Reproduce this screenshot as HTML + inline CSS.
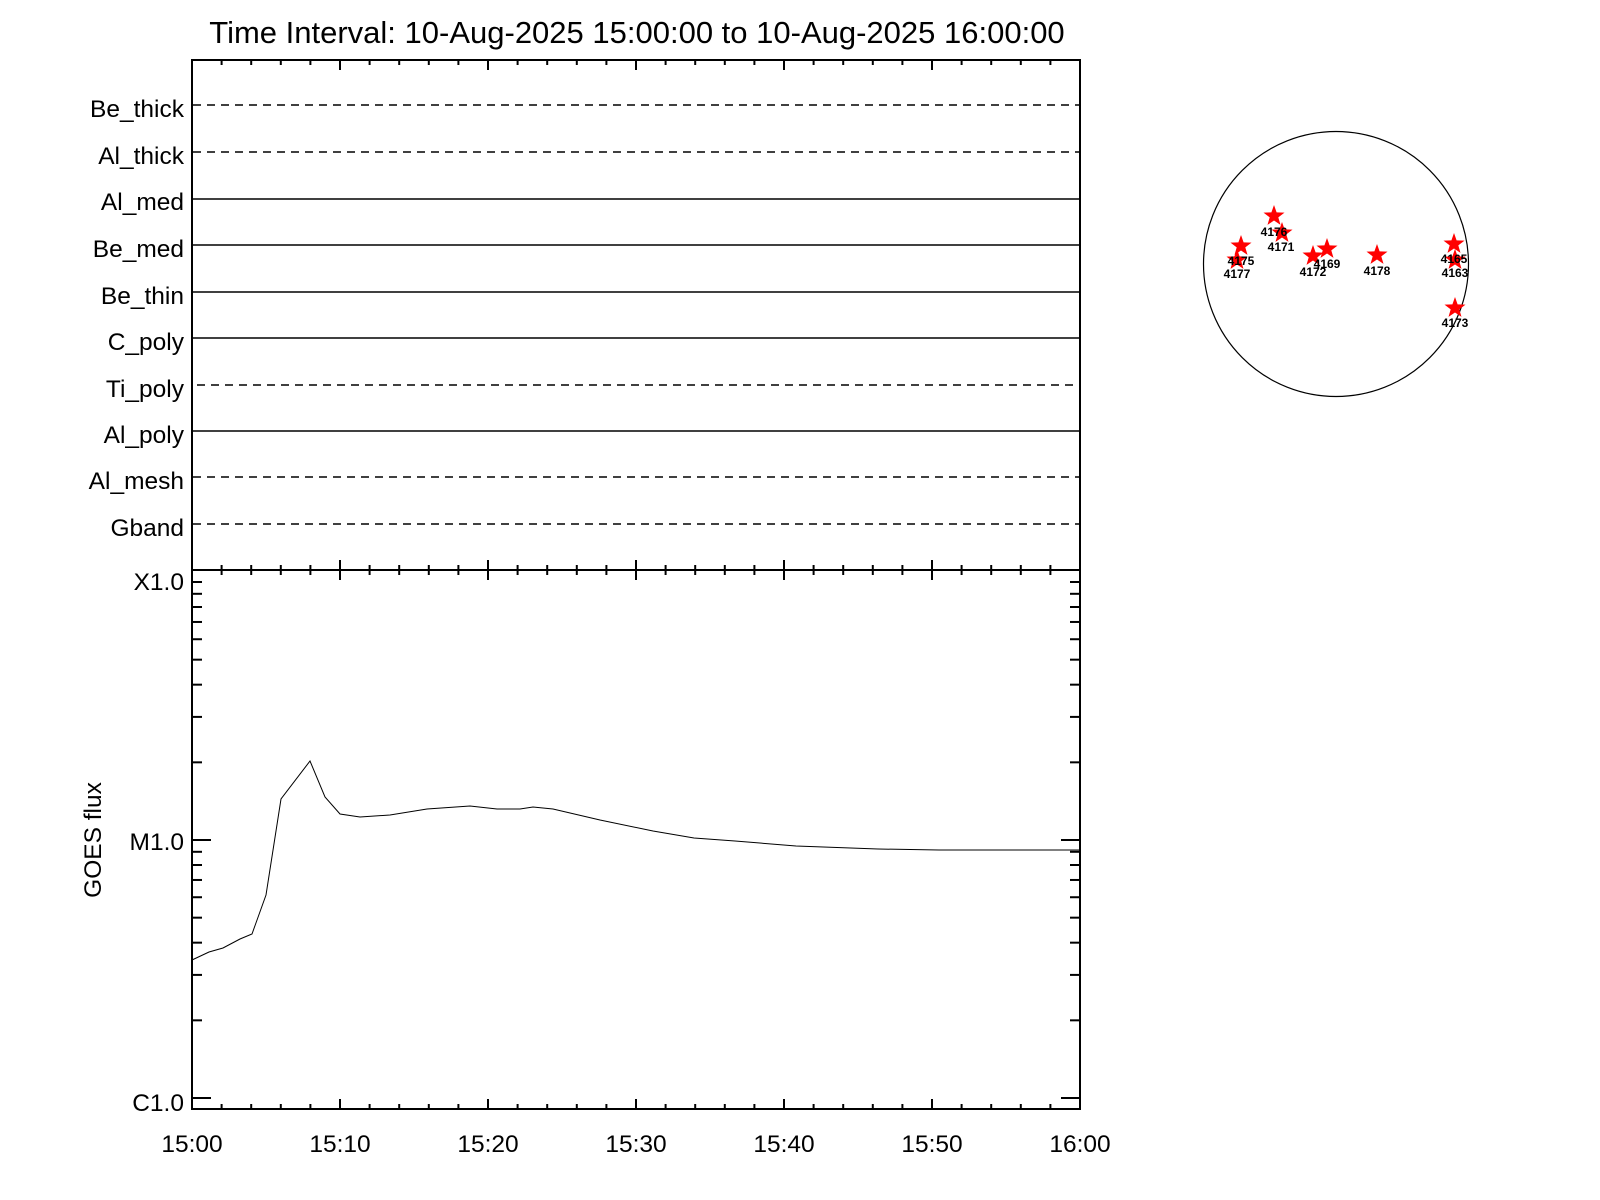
<!DOCTYPE html>
<html><head><meta charset="utf-8"><style>html,body{margin:0;padding:0;background:#fff}svg{display:block}</style></head><body>
<svg width="1600" height="1200" viewBox="0 0 1600 1200" xmlns="http://www.w3.org/2000/svg" font-family="Liberation Sans, sans-serif">
<rect width="1600" height="1200" fill="#fff"/>
<text x="637" y="43" font-size="31" text-anchor="middle">Time Interval: 10-Aug-2025 15:00:00 to 10-Aug-2025 16:00:00</text>
<g stroke="#000" stroke-width="2" fill="none">
<rect x="192" y="60" width="888" height="1049"/>
<line x1="192" y1="570" x2="1080" y2="570"/>
</g>
<g id="ticks" stroke="#000" stroke-width="2"></g>
<g stroke="#000" stroke-width="1.6">
<line x1="193" y1="105" x2="1079" y2="105" stroke-dasharray="8,6"/>
<line x1="193" y1="152" x2="1079" y2="152" stroke-dasharray="8,6"/>
<line x1="193" y1="199" x2="1079" y2="199"/>
<line x1="193" y1="245" x2="1079" y2="245"/>
<line x1="193" y1="292" x2="1079" y2="292"/>
<line x1="193" y1="338" x2="1079" y2="338"/>
<line x1="197" y1="385" x2="1077" y2="385" stroke-dasharray="8,6"/>
<line x1="193" y1="431" x2="1079" y2="431"/>
<line x1="193" y1="477" x2="1079" y2="477" stroke-dasharray="8,6"/>
<line x1="193" y1="524" x2="1079" y2="524" stroke-dasharray="8,6"/>
</g>
<g font-size="24.5" text-anchor="end">
<text x="184" y="117">Be_thick</text>
<text x="184" y="164">Al_thick</text>
<text x="184" y="210">Al_med</text>
<text x="184" y="257">Be_med</text>
<text x="184" y="304">Be_thin</text>
<text x="184" y="350">C_poly</text>
<text x="184" y="397">Ti_poly</text>
<text x="184" y="443">Al_poly</text>
<text x="184" y="489">Al_mesh</text>
<text x="184" y="536">Gband</text>
<text x="184" y="590">X1.0</text>
<text x="184" y="850">M1.0</text>
<text x="184" y="1111">C1.0</text>
</g>
<g font-size="24.5" text-anchor="middle">
<text x="192" y="1152">15:00</text>
<text x="340" y="1152">15:10</text>
<text x="488" y="1152">15:20</text>
<text x="636" y="1152">15:30</text>
<text x="784" y="1152">15:40</text>
<text x="932" y="1152">15:50</text>
<text x="1080" y="1152">16:00</text>
</g>
<text transform="translate(101,840) rotate(-90)" font-size="24.5" text-anchor="middle">GOES flux</text>
<polyline fill="none" stroke="#000" stroke-width="1" points="192,960 209,952 223,948 240,939 252,934 266,895 281,799 310,761 325,797 340,814 360,817 390,815 427,809 470,806 497,809 520,809 533,807 553,809 600,820 653,831 694,838 735,841 796,846 878,849 939,850 1080,850"/>
<circle cx="1336" cy="264" r="132.5" fill="none" stroke="#000" stroke-width="1.2"/>
<g id="stars" fill="#f00"></g>
<g font-size="12" font-weight="bold" text-anchor="middle" fill="#000">
<text x="1274" y="236">4176</text>
<text x="1281" y="251">4171</text>
<text x="1241" y="265">4175</text>
<text x="1237" y="278">4177</text>
<text x="1313" y="276">4172</text>
<text x="1327" y="268">4169</text>
<text x="1377" y="275">4178</text>
<text x="1454" y="263">4165</text>
<text x="1455" y="277">4163</text>
<text x="1455" y="327">4173</text>
</g>
<script>
var ns="http://www.w3.org/2000/svg",g=document.getElementById("ticks");
function L(a,b,c,d){var l=document.createElementNS(ns,"line");l.setAttribute("x1",a);l.setAttribute("y1",b);l.setAttribute("x2",c);l.setAttribute("y2",d);g.appendChild(l);}
for(var m=0;m<=60;m+=2){var x=192+m*14.8,maj=(m%10==0),t=maj?10:5;
L(x,60,x,60+t);L(x,1109,x,1109-t);L(x,570-t,x,570+t);}
var X=582,D=258;
for(var dec=0;dec<2;dec++){for(var k=1;k<=10;k++){var y=X+dec*D+(1-Math.log10(k))*D;if(y>1109)continue;var t=((k==1||k==10)&&y>590)?19:10;L(192,y,192+t,y);L(1080,y,1080-t,y);}}
var s=document.getElementById("stars");
[[1274,216],[1282,233],[1241,246],[1237,260],[1313,256],[1327,249],[1377,255],[1454,244],[1455,260],[1455,308]].forEach(function(p){
var pts=[];for(var i=0;i<10;i++){var r=i%2?4.5:11,a=-Math.PI/2+i*Math.PI/5;pts.push((p[0]+r*Math.cos(a)).toFixed(1)+","+(p[1]+r*Math.sin(a)).toFixed(1));}
var e=document.createElementNS(ns,"polygon");e.setAttribute("points",pts.join(" "));s.appendChild(e);});
</script>
</svg>
</body></html>
